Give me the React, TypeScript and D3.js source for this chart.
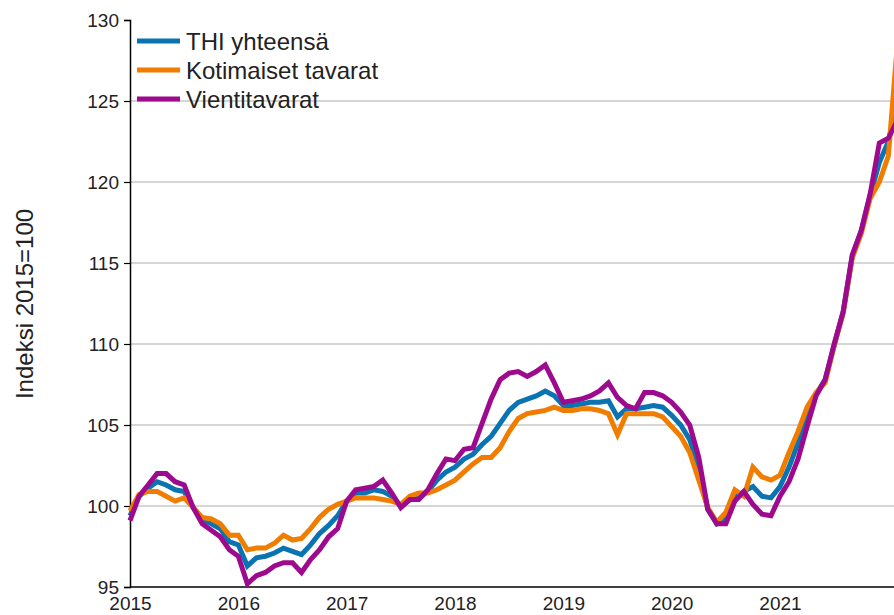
import { useRef, useEffect } from 'react'
import * as d3 from 'd3'

// Monthly index values, Jan 2015 onwards (2015=100)
const thiTotal = [
  99.4, 100.6, 101.1, 101.5, 101.3, 101.0, 100.9, 99.9, 99.2, 98.9, 98.6, 97.8,
  97.6, 96.3, 96.8, 96.9, 97.1, 97.4, 97.2, 97.0, 97.6, 98.3, 98.8, 99.4,
  100.3, 100.8, 100.8, 101.0, 100.9, 100.6, 100.0, 100.4, 100.5, 100.9, 101.6, 102.1,
  102.4, 102.9, 103.2, 103.8, 104.3, 105.1, 105.9, 106.4, 106.6, 106.8, 107.1, 106.8,
  106.2, 106.2, 106.3, 106.4, 106.4, 106.5, 105.5, 106.0, 106.0, 106.1, 106.2, 106.1,
  105.6, 105.0, 104.1, 102.3, 99.8, 98.9, 99.2, 100.5, 100.9, 101.2, 100.6, 100.5,
  101.2, 102.4, 103.9, 105.6, 106.9, 107.8, 109.9, 112.0, 115.4, 117.0, 119.2, 121.2,
  122.5, 125.0,
]

const domesticGoods = [
  99.7, 100.7, 100.9, 100.9, 100.6, 100.3, 100.5, 99.9, 99.3, 99.2, 98.9, 98.2,
  98.2, 97.3, 97.4, 97.4, 97.7, 98.2, 97.9, 98.0, 98.6, 99.3, 99.8, 100.1,
  100.3, 100.5, 100.5, 100.5, 100.4, 100.3, 100.1, 100.6, 100.8, 100.8, 101.0, 101.3,
  101.6, 102.1, 102.6, 103.0, 103.0, 103.6, 104.6, 105.4, 105.7, 105.8, 105.9, 106.1,
  105.9, 105.9, 106.0, 106.0, 105.9, 105.7, 104.4, 105.7, 105.7, 105.7, 105.7, 105.5,
  104.9, 104.3, 103.3, 101.6, 99.9, 99.0, 99.6, 101.0, 100.6, 102.4, 101.8, 101.6,
  101.9, 103.3, 104.6, 106.1, 107.0, 107.6, 109.9, 111.9, 115.3, 116.8, 119.0, 120.0,
  121.6, 128.5,
]

const exportGoods = [
  99.1, 100.6, 101.3, 102.0, 102.0, 101.5, 101.3, 99.9, 98.9, 98.5, 98.1, 97.3,
  96.9, 95.2, 95.7, 95.9, 96.3, 96.5, 96.5, 95.9, 96.7, 97.3, 98.1, 98.6,
  100.3, 101.0, 101.1, 101.2, 101.6, 100.8, 99.9, 100.4, 100.4, 101.0, 102.0, 102.9,
  102.8, 103.5, 103.6, 105.1, 106.6, 107.8, 108.2, 108.3, 108.0, 108.3, 108.7, 107.6,
  106.4, 106.5, 106.6, 106.8, 107.1, 107.6, 106.7, 106.2, 106.0, 107.0, 107.0, 106.8,
  106.4, 105.8, 105.0, 103.0, 99.8, 98.9, 98.9, 100.3, 100.9, 100.1, 99.5, 99.4,
  100.6, 101.5, 102.9, 104.9, 106.8, 107.8, 110.0, 112.0, 115.5, 117.0, 119.3, 122.4,
  122.7, 123.8,
]

const years = ['2015', '2016', '2017', '2018', '2019', '2020', '2021']
const yTicks = [95, 100, 105, 110, 115, 120, 125, 130]
const gridValues = [100, 105, 110, 115, 120, 125]

const seriesNames = ['THI yhteensä', 'Kotimaiset tavarat', 'Vientitavarat']
const seriesColors = ['#0a74b2', '#f07c00', '#9e0a8e']
const seriesData = [thiTotal, domesticGoods, exportGoods]

const FONT = '"Liberation Sans", Arial, sans-serif'

export default function App() {
  const svgRef = useRef<SVGSVGElement>(null)

  useEffect(() => {
    if (!svgRef.current) return
    const svg = d3.select(svgRef.current)
    svg.selectAll('*').remove()

    const width = 894
    const height = 615
    const left = 130
    const top = 20
    const bottom = 587

    const x = d3.scaleLinear().domain([0, 72]).range([left, 780])
    const y = d3.scaleLinear().domain([95, 130]).range([bottom, top])

    svg.attr('width', width).attr('height', height)

    // Grid lines
    svg
      .selectAll('.grid')
      .data(gridValues)
      .enter()
      .append('line')
      .attr('x1', left)
      .attr('x2', width)
      .attr('y1', (d) => y(d))
      .attr('y2', (d) => y(d))
      .attr('stroke', '#c8c8c8')
      .attr('stroke-width', 1.5)

    // Y axis
    svg
      .append('g')
      .attr('transform', `translate(${left},0)`)
      .call(d3.axisLeft(y).tickValues(yTicks).tickSize(6).tickPadding(5))
      .call((g) => g.select('.domain').attr('stroke', '#000').attr('stroke-width', 1.5))
      .call((g) => g.selectAll('.tick line').attr('stroke', '#000').attr('stroke-width', 1.2))
      .selectAll('text')
      .attr('fill', '#222')
      .attr('font-size', '19px')
      .attr('font-family', FONT)

    // X axis
    svg
      .append('g')
      .attr('transform', `translate(0,${bottom})`)
      .call(
        d3
          .axisBottom(x)
          .tickValues(years.map((_, i) => i * 12))
          .tickFormat((_, i) => years[i])
          .tickSize(0)
          .tickPadding(10),
      )
      .call((g) => g.select('.domain').remove())
      .selectAll('text')
      .attr('fill', '#222')
      .attr('font-size', '19px')
      .attr('font-family', FONT)

    svg
      .append('line')
      .attr('x1', left)
      .attr('x2', width)
      .attr('y1', bottom)
      .attr('y2', bottom)
      .attr('stroke', '#000')
      .attr('stroke-width', 1.5)

    // Y axis title
    svg
      .append('text')
      .attr('transform', 'translate(33,304) rotate(-90)')
      .attr('text-anchor', 'middle')
      .attr('fill', '#222')
      .attr('font-size', '24px')
      .attr('font-family', FONT)
      .text('Indeksi 2015=100')

    const line = d3
      .line<number>()
      .x((_, i) => x(i))
      .y((d) => y(d))

    seriesData.forEach((data, k) => {
      svg
        .append('path')
        .datum(data)
        .attr('fill', 'none')
        .attr('stroke', seriesColors[k])
        .attr('stroke-width', 5)
        .attr('stroke-linejoin', 'miter')
        .attr('d', line)
    })

    // Legend
    const legend = svg.append('g').attr('transform', 'translate(137,41)')
    seriesNames.forEach((name, k) => {
      const row = legend.append('g').attr('transform', `translate(0,${k * 29})`)
      row
        .append('line')
        .attr('x1', 0)
        .attr('x2', 43)
        .attr('stroke', seriesColors[k])
        .attr('stroke-width', 5)
      row
        .append('text')
        .attr('x', 49)
        .attr('dy', '0.36em')
        .attr('fill', '#222')
        .attr('font-size', '24px')
        .attr('font-family', FONT)
        .text(name)
    })
  }, [])

  return (
    <div style={{ position: 'absolute', left: 0, top: 0, background: '#fff' }}>
      <svg ref={svgRef} style={{ display: 'block' }} />
    </div>
  )
}
